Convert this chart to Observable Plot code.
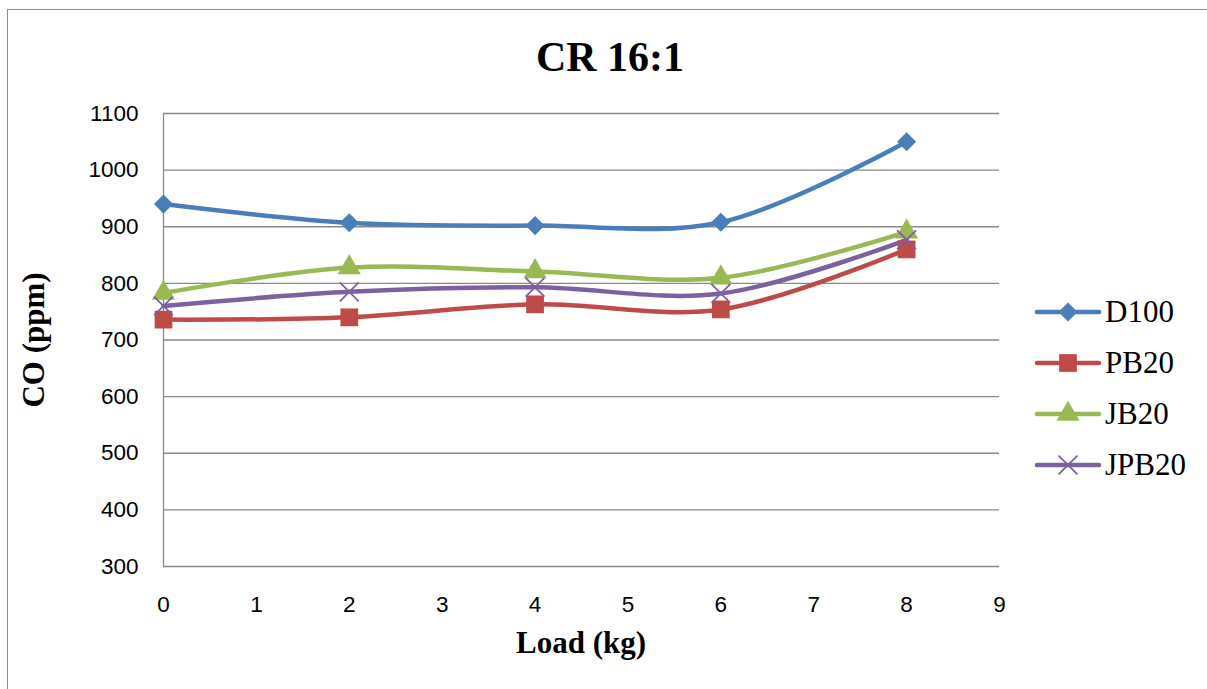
<!DOCTYPE html>
<html>
<head>
<meta charset="utf-8">
<script src="https://cdn.jsdelivr.net/npm/d3@7"></script>
<script src="https://cdn.jsdelivr.net/npm/@observablehq/plot@0.6"></script>
<style>
  html, body { margin: 0; padding: 0; background: #fff; }
  #wrap { position: relative; width: 1207px; height: 689px; overflow: hidden; }
  #frame { position: absolute; left: 7px; top: 9px; width: 1210px; height: 700px; border: 1.5px solid #8c8c8c; box-sizing: border-box; }
  #chart { position: absolute; left: 0; top: 0; }
  .title { position: absolute; left: 0; width: 1220px; top: 33px; text-align: center; font: bold 42px "Liberation Serif", "DejaVu Serif", serif; color: #000; line-height: 48px; }
  .xlabel { position: absolute; left: 381px; width: 400px; top: 625px; text-align: center; font: bold 31px "Liberation Serif", serif; color: #000; line-height: 36px; }
  .ylabel { position: absolute; left: 34px; top: 340px; transform: translate(-50%, -50%) rotate(-90deg); white-space: nowrap; font: bold 31px "Liberation Serif", serif; color: #000; }
  #legend { position: absolute; left: 1033px; top: 286px; }
  .item { display: flex; align-items: center; height: 51px; font: 31px "Liberation Serif", serif; color: #000; }
  .item svg { margin-right: 2px; }
</style>
</head>
<body>
<div id="wrap">
  <div id="frame"></div>
  <div id="chart"></div>
  <div class="title">CR 16:1</div>
  <div class="ylabel">CO (ppm)</div>
  <div class="xlabel">Load (kg)</div>
  <div id="legend"></div>
</div>
<script>
// Engine load (kg) and CO emissions (ppm) for each fuel blend
const loads = [0, 2, 4, 6, 8];
const d100  = [940, 907, 902, 908, 1050];
const pb20  = [736, 740, 763, 754, 860];
const jb20  = [783, 828, 821, 810, 891];
const jpb20 = [760, 785, 793, 782, 877];

const xTicks = [0, 1, 2, 3, 4, 5, 6, 7, 8, 9];
const yTicks = [300, 400, 500, 600, 700, 800, 900, 1000, 1100];

const series = [
  {name: "D100",  values: d100,  color: "#4A7EBB", symbol: "diamond2", r: 8.6, filled: true},
  {name: "PB20",  values: pb20,  color: "#BE4B48", symbol: "square",   r: 10,  filled: true},
  {name: "JB20",  values: jb20,  color: "#98B954", symbol: "triangle", r: 8.6, filled: true},
  {name: "JPB20", values: jpb20, color: "#7D60A0", symbol: "times",    r: 8.6, filled: false}
];

const rows = s => loads.map((x, i) => ({x, y: s.values[i]}));

const marks = [
  Plot.ruleY(yTicks, {stroke: "#898989", strokeWidth: 1.3}),
  Plot.ruleX([0], {stroke: "#898989", strokeWidth: 1.3}),
  Plot.axisX({ticks: xTicks, tickFormat: "d", tickSize: 0, tickPadding: 30, label: null, fontSize: 22.5}),
  Plot.axisY({ticks: yTicks, tickFormat: "d", tickSize: 0, tickPadding: 25, label: null, fontSize: 22.5})
];
for (const s of series) {
  marks.push(Plot.line(rows(s), {x: "x", y: "y", stroke: s.color, strokeWidth: 4.5, curve: "catmull-rom"}));
}
for (const s of series) {
  marks.push(s.filled
    ? Plot.dot(rows(s), {x: "x", y: "y", symbol: s.symbol, r: s.r, fill: s.color, stroke: "none"})
    : Plot.dot(rows(s), {x: "x", y: "y", symbol: s.symbol, r: s.r, stroke: s.color, strokeWidth: 1.8, fill: "none"}));
}

const chart = Plot.plot({
  width: 1207,
  height: 689,
  marginLeft: 163,
  marginRight: 208,
  marginTop: 113,
  marginBottom: 123,
  style: {background: "transparent", fontFamily: "'Liberation Sans', Arimo, sans-serif", color: "#000"},
  x: {domain: [0, 9]},
  y: {domain: [300, 1100]},
  marks
});
document.getElementById("chart").appendChild(chart);

// Legend with line + marker swatches
const legend = d3.select("#legend");
const symbolTypes = {diamond2: d3.symbolDiamond2, square: d3.symbolSquare, triangle: d3.symbolTriangle, times: d3.symbolTimes};
for (const s of series) {
  const item = legend.append("div").attr("class", "item");
  const svg = item.append("svg").attr("width", 70).attr("height", 30);
  svg.append("line").attr("x1", 4).attr("x2", 66).attr("y1", 15).attr("y2", 15)
    .attr("stroke", s.color).attr("stroke-width", 4.5).attr("stroke-linecap", "round");
  const p = svg.append("path").attr("transform", "translate(35,15)")
    .attr("d", d3.symbol(symbolTypes[s.symbol], Math.PI * s.r * s.r)());
  if (s.filled) p.attr("fill", s.color);
  else p.attr("fill", "none").attr("stroke", s.color).attr("stroke-width", 1.8);
  item.append("span").text(s.name);
}
</script>
</body>
</html>
